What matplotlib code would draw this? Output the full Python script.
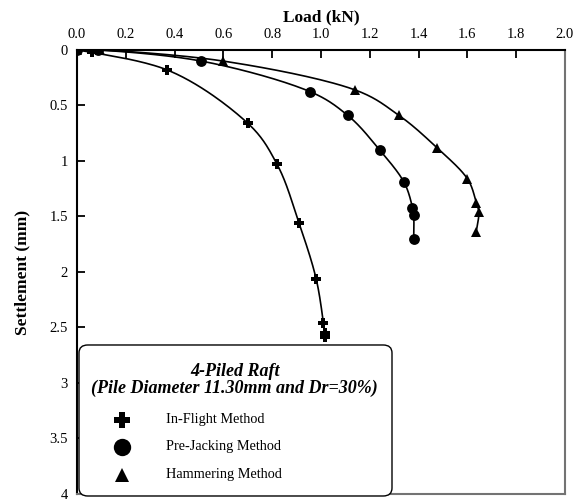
import numpy as np
import matplotlib
matplotlib.use('Agg')
import matplotlib.pyplot as plt
from matplotlib.patches import FancyBboxPatch

plt.rcParams['font.family'] = ['Liberation Serif', 'DejaVu Serif']

# Load-settlement readings, load in kN and settlement in mm
inflight_load = [0.0, 0.06, 0.37, 0.70, 0.82, 0.91, 0.98, 1.01, 1.015, 1.016]
inflight_settle = [0.0, 0.02, 0.18, 0.66, 1.03, 1.56, 2.06, 2.46, 2.55, 2.59]

prejack_load = [0.0, 0.085, 0.51, 0.955, 1.11, 1.24, 1.34, 1.375, 1.38, 1.38]
prejack_settle = [0.0, 0.0, 0.10, 0.375, 0.59, 0.90, 1.19, 1.42, 1.49, 1.70]

hammer_load = [0.0, 0.095, 0.60, 1.14, 1.32, 1.475, 1.60, 1.637, 1.647, 1.636]
hammer_settle = [0.0, 0.0, 0.10, 0.36, 0.59, 0.88, 1.16, 1.38, 1.46, 1.64]

x_ticks = [0.0, 0.2, 0.4, 0.6, 0.8, 1.0, 1.2, 1.4, 1.6, 1.8, 2.0]
y_ticks = [0, 0.5, 1, 1.5, 2, 2.5, 3, 3.5, 4]
y_tick_labels = ['0', '0.5', '1', '1.5', '2', '2.5', '3', '3.5', '4']

labels = ['In-Flight Method', 'Pre-Jacking Method', 'Hammering Method']


def smooth(xs, ys, n=30):
    # centripetal Catmull-Rom curve through the readings
    pts = np.column_stack([xs, ys]).astype(float)
    pts = np.vstack([pts[0] * 2 - pts[1], pts, pts[-1] * 2 - pts[-2]])
    out = []
    for i in range(1, len(pts) - 2):
        p0, p1, p2, p3 = pts[i - 1], pts[i], pts[i + 1], pts[i + 2]
        t0 = 0.0
        t1 = t0 + max(np.linalg.norm(p1 - p0), 1e-6) ** 0.5
        t2 = t1 + max(np.linalg.norm(p2 - p1), 1e-6) ** 0.5
        t3 = t2 + max(np.linalg.norm(p3 - p2), 1e-6) ** 0.5
        t = np.linspace(t1, t2, n)[:, None]
        a1 = (t1 - t) / (t1 - t0) * p0 + (t - t0) / (t1 - t0) * p1
        a2 = (t2 - t) / (t2 - t1) * p1 + (t - t1) / (t2 - t1) * p2
        a3 = (t3 - t) / (t3 - t2) * p2 + (t - t2) / (t3 - t2) * p3
        b1 = (t2 - t) / (t2 - t0) * a1 + (t - t0) / (t2 - t0) * a2
        b2 = (t3 - t) / (t3 - t1) * a2 + (t - t1) / (t3 - t1) * a3
        c = (t2 - t) / (t2 - t1) * b1 + (t - t1) / (t2 - t1) * b2
        out.append(c)
    out = np.vstack(out)
    return out[:, 0], out[:, 1]


fig = plt.figure(figsize=(5.75, 5.03), dpi=100)
ax = fig.add_axes([0.1339, 0.0179, 0.8487, 0.8827])

series = [
    (inflight_load, inflight_settle, 'P', 7),
    (prejack_load, prejack_settle, 'o', 7.8),
    (hammer_load, hammer_settle, '^', 6.8),
]
for xs, ys, mk, ms in series:
    sx, sy = smooth(xs, ys)
    ax.plot(sx, sy, color='black', lw=1.2, zorder=2)
    ax.plot(xs, ys, linestyle='none', marker=mk, markersize=ms,
            color='black', markeredgewidth=0, zorder=3)

ax.set_xlim(0, 2.0)
ax.set_ylim(4, 0)
ax.xaxis.tick_top()
ax.xaxis.set_label_position('top')
ax.set_xticks(x_ticks)
ax.set_xticklabels(['%.1f' % v for v in x_ticks])
ax.set_yticks(y_ticks)
ax.set_yticklabels(y_tick_labels)
ax.tick_params(direction='in', length=6, width=1.3, labelsize=10.5, pad=6.5)
ax.set_xlabel('Load (kN)', fontsize=12.5, fontweight='bold', labelpad=5)
ax.set_ylabel('Settlement (mm)', fontsize=12.5, fontweight='bold', labelpad=14)

for side in ['left', 'top']:
    ax.spines[side].set_linewidth(1.5)
for side in ['right', 'bottom']:
    ax.spines[side].set_linewidth(1.5)
    ax.spines[side].set_color('0.45')

# Legend panel with rounded frame
box = FancyBboxPatch((0.0041, -0.0045), 0.6414, 0.3401,
                     boxstyle='round,pad=0,rounding_size=0.018',
                     transform=ax.transAxes, facecolor='white', edgecolor='black',
                     linewidth=1.0, clip_on=False, zorder=5)
ax.add_patch(box)
ax.text(0.3229, 0.2770, '4-Piled Raft', transform=ax.transAxes, ha='center', va='center',
        fontsize=13, fontweight='bold', fontstyle='italic', zorder=6)
ax.text(0.3229, 0.2387, '(Pile Diameter 11.30mm and Dr=30%)', transform=ax.transAxes,
        ha='center', va='center', fontsize=13, fontweight='bold', fontstyle='italic', zorder=6)

key_y = [0.1667, 0.1059, 0.0428]
key_marks = [('P', 12), ('o', 12.5), ('^', 10.5)]
for (mk, ms), lab, yy in zip(key_marks, labels, key_y):
    ax.plot([0.0922], [yy], transform=ax.transAxes, linestyle='none', marker=mk,
            markersize=ms, color='black', markeredgewidth=0, clip_on=False, zorder=6)
    ax.text(0.1824, yy, lab, transform=ax.transAxes, ha='left', va='center',
            fontsize=10.3, zorder=6)

fig.savefig('out.png', dpi=100)
